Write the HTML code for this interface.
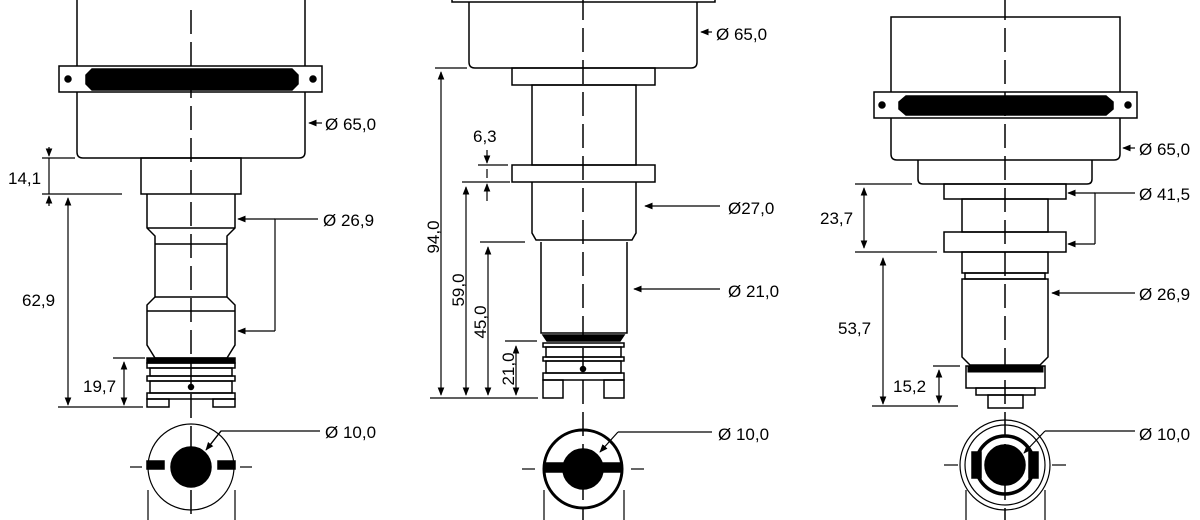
<!DOCTYPE html>
<html><head><meta charset="utf-8"><style>
html,body{margin:0;padding:0;background:#fff}
svg{display:block}
text{font-family:"Liberation Sans",sans-serif;font-size:17px;fill:#000}
</style></head><body>
<svg width="1200" height="520" viewBox="0 0 1200 520" xmlns="http://www.w3.org/2000/svg">
<defs>
<marker id="a" viewBox="0 0 10 10" refX="9" refY="5" markerWidth="7" markerHeight="7" orient="auto-start-reverse"><path d="M0,1 L10,5 L0,9z" fill="#000"/></marker>
</defs>
<g fill="none" stroke="#000" stroke-width="1.5">
<!-- Drawing 1 -->
<path d="M77,0 V152 Q77,158 83,158 H299 Q305,158 305,152 V0"/>
<rect x="59" y="66" width="263" height="26" fill="#fff"/>
<path d="M92,69 H292 L298,75 V84 L292,90 H92 L86,84 V75z" fill="#000"/>
<circle cx="68" cy="79" r="3" fill="#000"/><circle cx="313" cy="79" r="3" fill="#000"/>
<rect x="141" y="158" width="100" height="36"/>
<path d="M147,194 V228 L155,236 V297 L147,305 V345 L155,358 H227 L235,345 V305 L227,297 V236 L235,228 V194"/>
<line x1="147" y1="228" x2="235" y2="228"/><line x1="155" y1="244" x2="227" y2="244"/>
<line x1="155" y1="297" x2="227" y2="297"/><line x1="147" y1="311" x2="235" y2="311"/>
<rect x="147" y="358" width="88" height="5" fill="#000"/>
<rect x="147" y="363" width="88" height="5"/><rect x="150" y="368" width="82" height="8"/>
<rect x="147" y="376" width="88" height="5"/><rect x="150" y="381" width="82" height="12"/>
<circle cx="191" cy="387" r="2.5" fill="#000"/>
<rect x="147" y="393" width="88" height="6"/>
<rect x="147" y="399" width="22" height="8"/><rect x="213" y="399" width="22" height="8"/>
<line x1="322" y1="123" x2="309" y2="123" marker-end="url(#a)" stroke-width="1.2"/>
<g stroke-width="1.2">
<line x1="42" y1="158" x2="75" y2="158"/><line x1="42" y1="194" x2="122" y2="194"/>
<line x1="49" y1="147" x2="49" y2="156" marker-end="url(#a)"/><line x1="49" y1="158" x2="49" y2="194"/><line x1="49" y1="206" x2="49" y2="196" marker-end="url(#a)"/>
<line x1="68" y1="198" x2="68" y2="405" marker-start="url(#a)" marker-end="url(#a)"/>
<line x1="58" y1="407" x2="143" y2="407"/><line x1="113" y1="358" x2="145" y2="358"/>
<line x1="124" y1="362" x2="124" y2="405" marker-start="url(#a)" marker-end="url(#a)"/>
<path d="M318,219 H275 V331"/>
<line x1="275" y1="219" x2="238" y2="219" marker-end="url(#a)"/><line x1="275" y1="331" x2="238" y2="331" marker-end="url(#a)"/>
<circle cx="191" cy="467" r="43"/>
<path d="M320,431 H221 L207,449" /><line x1="221" y1="431" x2="206" y2="450" marker-end="url(#a)"/>
<line x1="130" y1="467" x2="142" y2="467"/><line x1="240" y1="467" x2="252" y2="467"/>
<line x1="148" y1="490" x2="148" y2="520"/><line x1="235" y1="490" x2="235" y2="520"/>
</g>
<circle cx="191" cy="467" r="20" fill="#000"/>
<rect x="147" y="461" width="17" height="8" fill="#000"/><rect x="218" y="461" width="17" height="8" fill="#000"/>

<!-- Drawing 2 -->
<rect x="452" y="-5" width="263" height="7"/>
<path d="M469,2 V62 Q469,68 475,68 H691 Q697,68 697,62 V2"/>
<rect x="512" y="68" width="143" height="17"/>
<rect x="532" y="85" width="104" height="80"/>
<rect x="512" y="165" width="143" height="17"/>
<path d="M532,182 V233 L536,240 H632 L636,233 V182"/>
<path d="M541,242 V333 H627 V242"/>
<path d="M543,335 H624 L620,341 H547z" fill="#000"/>
<rect x="543" y="343" width="81" height="4"/><rect x="546" y="347" width="75" height="10"/>
<rect x="543" y="357" width="81" height="4"/><rect x="546" y="361" width="75" height="12"/>
<circle cx="583" cy="369" r="2.5" fill="#000"/>
<rect x="543" y="373" width="81" height="7"/>
<rect x="543" y="380" width="20" height="18"/><rect x="604" y="380" width="20" height="18"/>
<g stroke-width="1.2">
<line x1="712" y1="32" x2="701" y2="32" marker-end="url(#a)"/>
<line x1="435" y1="68" x2="467" y2="68"/><line x1="430" y1="398" x2="538" y2="398"/>
<line x1="441" y1="72" x2="441" y2="395" marker-start="url(#a)" marker-end="url(#a)"/>
<line x1="462" y1="182" x2="510" y2="182"/>
<line x1="466" y1="187" x2="466" y2="395" marker-start="url(#a)" marker-end="url(#a)"/>
<line x1="480" y1="242" x2="525" y2="242"/>
<line x1="488" y1="247" x2="488" y2="395" marker-start="url(#a)" marker-end="url(#a)"/>
<line x1="505" y1="341" x2="537" y2="341"/>
<line x1="516" y1="346" x2="516" y2="395" marker-start="url(#a)" marker-end="url(#a)"/>
<line x1="478" y1="165" x2="508" y2="165"/>
<line x1="487" y1="150" x2="487" y2="163" marker-end="url(#a)"/><line x1="487" y1="169" x2="487" y2="178"/><line x1="487" y1="201" x2="487" y2="184" marker-end="url(#a)"/>
<line x1="720" y1="206" x2="645" y2="206" marker-end="url(#a)"/>
<line x1="720" y1="289" x2="634" y2="289" marker-end="url(#a)"/>
<path d="M712,432 H618"/><line x1="618" y1="432" x2="600" y2="452" marker-end="url(#a)"/>
<line x1="522" y1="469" x2="535" y2="469"/><line x1="631" y1="469" x2="644" y2="469"/>
<line x1="544" y1="490" x2="544" y2="520"/><line x1="624" y1="490" x2="624" y2="520"/>
</g>
<circle cx="583" cy="469" r="39" stroke-width="3"/>
<circle cx="583" cy="469" r="20" fill="#000"/>
<rect x="544" y="463" width="20" height="9" fill="#000"/><rect x="602" y="463" width="20" height="9" fill="#000"/>

<!-- Drawing 3 -->
<path d="M891,17 V154 Q891,160 897,160 H1114 Q1120,160 1120,154 V17z"/>
<rect x="874" y="92" width="263" height="26" fill="#fff"/>
<path d="M906,96 H1106 L1113,102 V109 L1106,115 H906 L899,109 V102z" fill="#000"/>
<circle cx="882" cy="105" r="3" fill="#000"/><circle cx="1128" cy="105" r="3" fill="#000"/>
<path d="M918,160 V179 Q918,184 923,184 H1087 Q1092,184 1092,179 V160"/>
<rect x="944" y="184" width="122" height="15"/>
<rect x="962" y="199" width="86" height="33"/>
<rect x="944" y="232" width="122" height="20"/>
<rect x="962" y="252" width="86" height="21"/>
<rect x="965" y="273" width="80" height="6"/>
<path d="M962,279 V357 L970,365 H1040 L1048,357 V279z"/>
<path d="M966,366 H1045 V388 H966z"/><path d="M968,366 H1043 V372 H968z" fill="#000" stroke-width="1"/>
<rect x="976" y="388" width="59" height="7"/>
<rect x="988" y="395" width="35" height="13"/>
<g stroke-width="1.2">
<line x1="1135" y1="148" x2="1123" y2="148" marker-end="url(#a)"/>
<path d="M1135,193 H1095 V244"/>
<line x1="1095" y1="193" x2="1068" y2="193" marker-end="url(#a)"/><line x1="1095" y1="244" x2="1068" y2="244" marker-end="url(#a)"/>
<line x1="1135" y1="293" x2="1052" y2="293" marker-end="url(#a)"/>
<line x1="855" y1="184" x2="912" y2="184"/><line x1="855" y1="252" x2="937" y2="252"/>
<line x1="864" y1="188" x2="864" y2="248" marker-start="url(#a)" marker-end="url(#a)"/>
<line x1="883" y1="258" x2="883" y2="404" marker-start="url(#a)" marker-end="url(#a)"/>
<line x1="872" y1="406" x2="958" y2="406"/>
<line x1="933" y1="366" x2="960" y2="366"/>
<line x1="939" y1="370" x2="939" y2="403" marker-start="url(#a)" marker-end="url(#a)"/>
<path d="M1135,431 H1045"/><line x1="1045" y1="431" x2="1024" y2="453" marker-end="url(#a)"/>
<circle cx="1005" cy="465" r="45"/><circle cx="1005" cy="465" r="40"/>
<line x1="944" y1="465" x2="958" y2="465"/><line x1="1052" y1="465" x2="1066" y2="465"/>
<line x1="966" y1="490" x2="966" y2="520"/><line x1="1045" y1="490" x2="1045" y2="520"/>
</g>
<circle cx="1005" cy="465" r="29" stroke-width="3.5"/>
<circle cx="1005" cy="465" r="20" fill="#000"/>
<rect x="972" y="452" width="9" height="26" fill="#000"/><rect x="1029" y="452" width="9" height="26" fill="#000"/>
</g>
<!-- centerlines -->
<g stroke="#000" stroke-width="1.5" stroke-dasharray="24,8">
<line x1="191" y1="10" x2="191" y2="520"/>
<line x1="583" y1="-4" x2="583" y2="520"/>
<line x1="1005" y1="-4" x2="1005" y2="520"/>
</g>
<!-- labels -->
<text x="325" y="130">Ø 65,0</text>
<text x="8" y="184">14,1</text>
<text x="323" y="226">Ø 26,9</text>
<text x="22" y="306">62,9</text>
<text x="83" y="392">19,7</text>
<text x="325" y="438">Ø 10,0</text>
<text x="716" y="40">Ø 65,0</text>
<text x="473" y="142">6,3</text>
<text x="728" y="214">Ø27,0</text>
<text x="728" y="297">Ø 21,0</text>
<text x="718" y="440">Ø 10,0</text>
<text transform="translate(439,237) rotate(-90)" text-anchor="middle">94,0</text>
<text transform="translate(464,290) rotate(-90)" text-anchor="middle">59,0</text>
<text transform="translate(486,322) rotate(-90)" text-anchor="middle">45,0</text>
<text transform="translate(514,369) rotate(-90)" text-anchor="middle">21,0</text>
<text x="1139" y="155">Ø 65,0</text>
<text x="1139" y="200">Ø 41,5</text>
<text x="1139" y="300">Ø 26,9</text>
<text x="1139" y="440">Ø 10,0</text>
<text x="820" y="224">23,7</text>
<text x="838" y="334">53,7</text>
<text x="893" y="392">15,2</text>
</svg>
</body></html>
